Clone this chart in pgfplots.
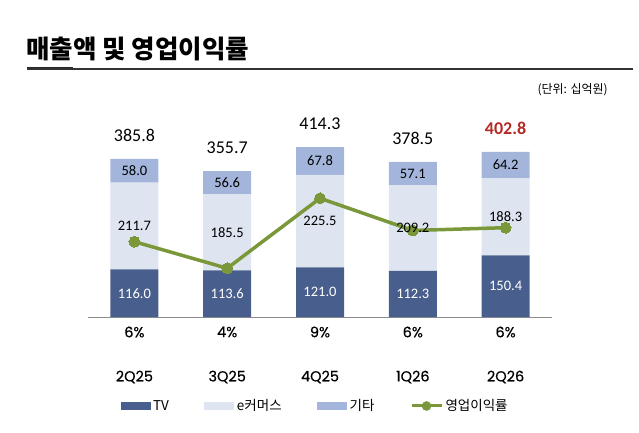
\documentclass[border=0pt]{standalone}
\usepackage{fontspec}
\setmainfont{Noto Sans CJK KR}
\newfontfamily\calfont{Carlito}
\newfontfamily\popfont{Poppins}[FakeBold=0.4]
\usepackage{pgfplots}
\pgfplotsset{compat=1.18}
\usepackage{pgfplotstable}
\definecolor{tvc}{HTML}{485E8C}
\definecolor{ecc}{HTML}{DEE4F0}
\definecolor{etc}{HTML}{A3B5DA}
\definecolor{grn}{HTML}{7A983A}
\definecolor{rd}{HTML}{B52A25}

\pgfplotstableread{
x tv ecom other total margin
0 116.0 211.7 58.0 385.8 5.9
1 113.6 185.5 56.6 355.7 4.0
2 121.0 225.5 67.8 414.3 9.0
3 112.3 209.2 57.1 378.5 6.7
4 150.4 188.3 64.2 402.8 6.9
}\data

\pgfplotsset{
  base/.style={at={(88pt,115pt)}, anchor=south west, scale only axis,
    width=464pt, height=217pt, xmin=-0.5, xmax=4.5, clip=false},
}

\begin{document}
\begin{tikzpicture}[x=1pt,y=1pt]
% title
\node[anchor=west, inner sep=0pt, font=\fontsize{25.5}{27}\selectfont\bfseries] at (26pt,383pt) {매출액 및 영업이익률};
\fill[black!85] (27pt,361.7pt) rectangle (73pt,365.2pt);
\draw[black!80, line width=1.3pt] (27pt,363pt) -- (633pt,363pt);
\node[anchor=east, inner sep=0pt, font=\fontsize{12}{14}\selectfont] at (608pt,342pt) {(단위:  십억원)};

% bars
\begin{axis}[base, ymin=0, ymax=529.3, ybar stacked, bar width=48pt,
  axis lines=none,
  legend columns=4,
  legend style={at={(axis description cs:0.49,-0.41)}, anchor=center,
    draw=none, fill=none, inner sep=0pt,
    font=\fontsize{13.5}{15}\selectfont,
    /tikz/every even column/.append style={column sep=33pt},
    nodes={inner sep=2.5pt}},
  legend image code/.code={\fill[#1] (0pt,-4pt) rectangle (30pt,4pt);},
]
\addplot[fill=tvc, draw=none] table[x=x, y=tv]{\data};
\addlegendentry{TV}
\addplot[fill=ecc, draw=none] table[x=x, y=ecom]{\data};
\addlegendentry{e커머스}
\addplot[fill=etc, draw=none] table[x=x, y=other]{\data};
\addlegendentry{기타}
\addlegendimage{grn, line width=3pt, legend image code/.code={\draw[grn, line width=3pt] (0pt,0pt) -- (30pt,0pt); \fill[grn] (15pt,0pt) circle (3.2pt);}}
\addlegendentry{영업이익률}
\draw[black!45, line width=1pt] (axis cs:-0.5,0) -- (axis cs:4.5,0);
\end{axis}

% margin line
\begin{axis}[base, ymin=0.52, ymax=16.02, axis lines=none]
\addplot[grn, line width=3.5pt, mark=*, mark size=5.5pt,
  mark options={fill=grn, draw=grn, line width=0pt}] table[x=x, y=margin]{\data};
\end{axis}

% labels
\begin{axis}[base, ymin=0, ymax=529.3, axis lines=none]
\addplot[draw=none] coordinates {(0,0)};
\foreach \i/\v/\t in {0/58/116.0, 1/56.8/113.6, 2/60.5/121.0, 3/56.15/112.3, 4/75.2/150.4}{
  \edef\tmp{\noexpand\node[white, font=\noexpand\calfont\noexpand\fontsize{14.5}{16}\noexpand\selectfont] at (axis cs:\i,\v) {\t};}\tmp }
\foreach \i/\v/\t in {0/221.85/211.7, 1/206.35/185.5, 2/233.75/225.5, 3/216.9/209.2, 4/244.55/188.3}{
  \edef\tmp{\noexpand\node[black, font=\noexpand\calfont\noexpand\fontsize{14.5}{16}\noexpand\selectfont] at (axis cs:\i,\v) {\t};}\tmp }
\foreach \i/\v/\t in {0/356.7/58.0, 1/327.4/56.6, 2/380.4/67.8, 3/350.05/57.1, 4/370.8/64.2}{
  \edef\tmp{\noexpand\node[black, font=\noexpand\calfont\noexpand\fontsize{14.5}{16}\noexpand\selectfont] at (axis cs:\i,\v) {\t};}\tmp }
\foreach \i/\v in {0/385.8, 1/355.7, 2/414.3, 3/378.5}{
  \edef\tmp{\noexpand\node[black, yshift=23.5pt, font=\noexpand\calfont\noexpand\fontsize{18}{20}\noexpand\selectfont] at (axis cs:\i,\v) {\v};}\tmp }
\node[rd, yshift=23.5pt, font=\calfont\fontsize{18}{20}\selectfont\bfseries] at (axis cs:4,402.8) {402.8};
\foreach \i/\p/\c in {0/6/2Q25, 1/4/3Q25, 2/9/4Q25, 3/6/1Q26, 4/6/2Q26}{
  \edef\tmp{\noexpand\node[black, yshift=-15pt, font=\noexpand\popfont\noexpand\fontsize{14.5}{16}\noexpand\selectfont] at (axis cs:\i,0) {\p\noexpand\%};
  \noexpand\node[black, yshift=-60pt, font=\noexpand\popfont\noexpand\fontsize{14.5}{16}\noexpand\selectfont] at (axis cs:\i,0) {\c};}\tmp }
\end{axis}
\useasboundingbox (0pt,0pt) rectangle (639pt,432pt);
\end{tikzpicture}
\end{document}
